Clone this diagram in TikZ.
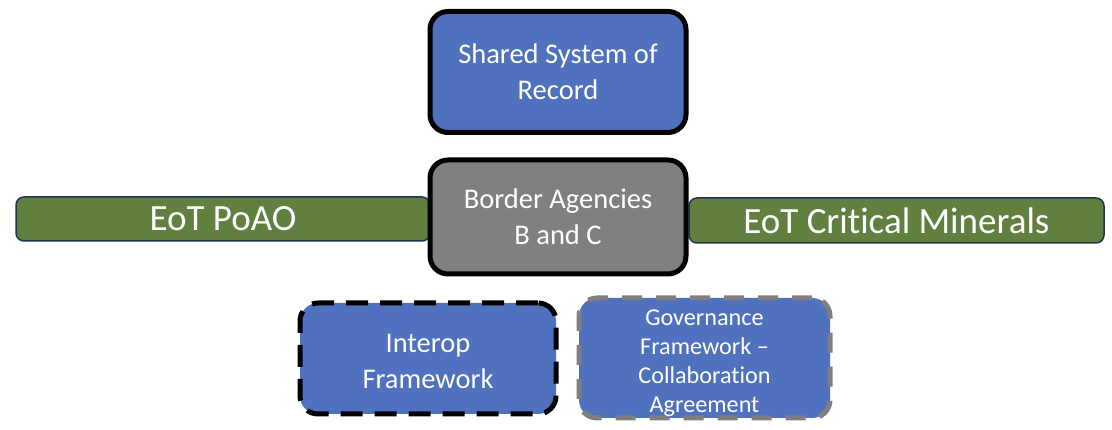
\documentclass[tikz,border=0pt]{standalone}
\usepackage{fontspec}
\setmainfont[Ligatures={NoCommon}]{Carlito}
\definecolor{boxblue}{HTML}{4F71BE}
\definecolor{boxgray}{HTML}{808080}
\definecolor{boxgreen}{HTML}{61803F}
\definecolor{navyline}{HTML}{1F3457}
\definecolor{dashgray}{HTML}{7F7F7F}
\begin{document}
\begin{tikzpicture}[x=1pt,y=-1pt,
  bigbox/.style={draw=black, line width=5pt, rounded corners=18pt, text=white,
    align=center, inner sep=0pt, font=\fontsize{28.5}{36}\selectfont},
  boxtext/.style={text=white, align=center, inner sep=0pt},
  greenbar/.style={draw=navyline, fill=boxgreen, line width=1.5pt, rounded corners=8pt,
    text=white, inner sep=0pt, font=\fontsize{37}{40}\selectfont},
  blackdash/.style={dash pattern=on 22pt off 12pt},
  graydash/.style={draw=dashgray, dash pattern=on 20pt off 14pt}]
\useasboundingbox (0,0) rectangle (1112,430);
\node[greenbar, minimum width=414pt, minimum height=44pt] (poao) at (223,219) {EoT PoAO};
\node[greenbar, minimum width=415pt, minimum height=45pt] (crit) at (896.5,220.5) {EoT Critical Minerals};
\node[bigbox, fill=boxblue, minimum width=256pt, minimum height=121pt] (ssr) at (558,72) {Shared System of\\Record};
\node[bigbox, fill=boxgray, minimum width=256pt, minimum height=114pt] (border) at (558,217) {Border Agencies\\B and C};
\node[bigbox, blackdash, fill=boxblue, minimum width=256pt, minimum height=111pt,
  label={[boxtext, yshift=-3pt, font=\fontsize{28.5}{36}\selectfont]center:Interop\\Framework}] (interop) at (428,358.5) {};
\node[bigbox, graydash, fill=boxblue, minimum width=251pt, minimum height=120pt,
  label={[boxtext, yshift=-5pt, font=\fontsize{24.2}{29}\selectfont]center:Governance\\Framework –\\Collaboration\\Agreement}] (gov) at (704.5,358) {};
\end{tikzpicture}
\end{document}
